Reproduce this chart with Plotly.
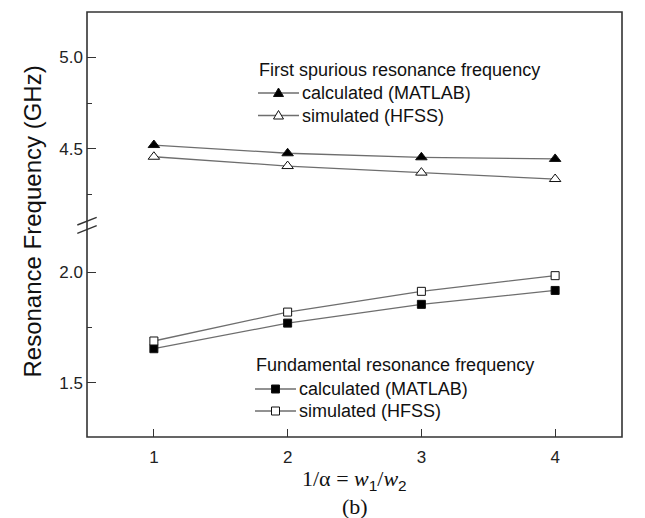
import plotly.graph_objects as go

# ---- data ----
ratio = [1, 2, 3, 4]
spur_calc = [4.52, 4.475, 4.453, 4.444]
spur_sim = [4.456, 4.405, 4.369, 4.334]
fund_calc = [1.654, 1.770, 1.855, 1.918]
fund_sim = [1.689, 1.820, 1.914, 1.985]

x_ticks = [1, 2, 3, 4]
x_title = ("1/α = <i>w</i><span style='font-family:Liberation Sans'><sub>1</sub></span>"
           "/<i>w</i><span style='font-family:Liberation Sans'><sub>2</sub></span>")
y_title = "Resonance Frequency (GHz)"
legend1_title = "First spurious resonance frequency"
legend2_title = "Fundamental resonance frequency"
label_calc = "calculated (MATLAB)"
label_sim = "simulated (HFSS)"
caption = "(b)"

SANS = "Liberation Sans, Arial, sans-serif"
SERIF = "Liberation Serif, Times New Roman, serif"
LINE_C = "#6e6e6e"
AX_C = "#333333"
TXT_C = "#111111"

fig = go.Figure()

def add(y, sym, fill, name, yaxis, size):
    fig.add_trace(go.Scatter(
        x=ratio, y=y, mode="lines+markers", name=name,
        yaxis=yaxis, showlegend=False,
        line=dict(color=LINE_C, width=1.3),
        marker=dict(symbol=sym, size=size, color=fill,
                    line=dict(color=TXT_C, width=1)),
    ))

add(spur_calc, "triangle-up", "#000000", label_calc, "y2", 10)
add(spur_sim, "triangle-up", "#ffffff", label_sim, "y2", 10)
add(fund_calc, "square", "#000000", label_calc, "y", 8)
add(fund_sim, "square", "#ffffff", label_sim, "y", 8)

# page offset of the figure div (body margin)
OFF = 8
# plot area in page px: left 87, right 622, top 12, bottom 437
L, R, T, B = 87, 622, 12, 437
FW, FH = 645 - OFF, 518 - OFF
W, H = R - L, B - T
def px(xp):
    return (xp - L) / W
def py(yp):
    return (B - yp) / H

brk = py(226)

tick_common = dict(ticks="inside", tickcolor=AX_C, tickwidth=1.4,
                   showgrid=False, zeroline=False, showline=False,
                   tickfont=dict(family=SANS, size=17, color="#222222"))

shapes = [
    dict(type="rect", xref="paper", yref="paper", x0=0, x1=1, y0=0, y1=1,
         line=dict(color=AX_C, width=1.6)),
    dict(type="line", xref="paper", yref="paper",
         x0=px(77.3), y0=py(225), x1=px(96.7), y1=py(217.3),
         line=dict(color=AX_C, width=1.4)),
    dict(type="line", xref="paper", yref="paper",
         x0=px(77.3), y0=py(233.3), x1=px(96.7), y1=py(225.6),
         line=dict(color=AX_C, width=1.4)),
]
annotations = []

def legend_block(title, tx, ty, lx0, lx1, rows, sym):
    annotations.append(dict(text=title, xref="paper", yref="paper",
                            x=px(tx), y=py(ty), xanchor="left", yanchor="middle",
                            showarrow=False,
                            font=dict(family=SANS, size=18, color=TXT_C)))
    for label, ry, fill in rows:
        shapes.append(dict(type="line", xref="paper", yref="paper",
                           x0=px(lx0), x1=px(lx1), y0=py(ry), y1=py(ry),
                           line=dict(color=LINE_C, width=1.3)))
        cx, cy = px((lx0 + lx1) / 2), py(ry)
        if sym == "tri":
            shapes.append(dict(type="path", xref="paper", yref="paper",
                               xsizemode="pixel", ysizemode="pixel",
                               xanchor=cx, yanchor=cy,
                               path="M -5,-3.5 L 5,-3.5 L 0,5 Z",
                               fillcolor=fill, line=dict(color=TXT_C, width=1)))
        else:
            shapes.append(dict(type="rect", xref="paper", yref="paper",
                               xsizemode="pixel", ysizemode="pixel",
                               xanchor=cx, yanchor=cy,
                               x0=-4, x1=4, y0=-4, y1=4,
                               fillcolor=fill, line=dict(color=TXT_C, width=1)))
        annotations.append(dict(text=label, xref="paper", yref="paper",
                                x=px(lx1 + 1), y=py(ry), xanchor="left",
                                yanchor="middle", showarrow=False,
                                font=dict(family=SANS, size=18, color=TXT_C)))

legend_block(legend1_title, 257, 70, 258, 299,
             [(label_calc, 93, "#000000"), (label_sim, 115.5, "#ffffff")], "tri")
legend_block(legend2_title, 254, 365, 255, 296,
             [(label_calc, 389, "#000000"), (label_sim, 411, "#ffffff")], "sq")

annotations += [
    dict(text=y_title, xref="paper", yref="paper", x=px(32), y=py(221.5),
         xanchor="center", yanchor="middle", textangle=-90, showarrow=False,
         font=dict(family=SANS, size=24, color=TXT_C)),
    dict(text=x_title, xref="paper", yref="paper", x=0.5, y=0,
         xanchor="center", yanchor="middle", yshift=-43, showarrow=False,
         font=dict(family=SERIF, size=22, color=TXT_C)),
    dict(text=caption, xref="paper", yref="paper", x=0.5, y=0,
         xanchor="center", yanchor="middle", yshift=-69, showarrow=False,
         font=dict(family=SERIF, size=22, color=TXT_C)),
]

fig.update_layout(
    width=FW, height=FH,
    margin=dict(l=L - OFF, r=OFF + FW - R, t=T - OFF, b=OFF + FH - B,
                autoexpand=False),
    paper_bgcolor="white", plot_bgcolor="white",
    showlegend=False,
    xaxis=dict(range=[0.5, 4.5], tickvals=x_ticks, ticklen=8,
               ticklabelstandoff=8, **tick_common),
    yaxis=dict(domain=[0, brk], range=[1.254, 2.21], tick0=0, dtick=0.5,
               tickformat=".1f", ticklen=9, ticklabelstandoff=3,
               minor=dict(ticks="inside", tick0=0, dtick=0.25, ticklen=5,
                          tickcolor=AX_C, tickwidth=1.2),
               **tick_common),
    yaxis2=dict(domain=[brk, 1], range=[4.077, 5.248], anchor="x", tick0=0,
                dtick=0.5, tickformat=".1f", ticklen=9, ticklabelstandoff=3,
                minor=dict(ticks="inside", tick0=0, dtick=0.25, ticklen=5,
                           tickcolor=AX_C, tickwidth=1.2),
                **tick_common),
    shapes=shapes,
    annotations=annotations,
)

fig.write_html("out.html")
